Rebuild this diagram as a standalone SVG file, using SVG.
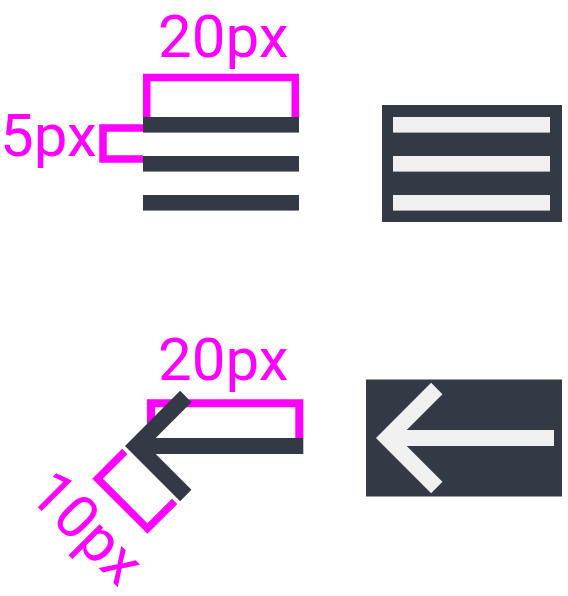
<svg xmlns="http://www.w3.org/2000/svg" width="568" height="596" viewBox="0 0 568 596">
  <style>
    .lbl { font-family: Roboto, "Liberation Sans", sans-serif; font-size: 60px; fill: #ff00ff; }
    .dim { fill: none; stroke: #ff00ff; stroke-width: 7.5; stroke-linejoin: miter; }
    .dark { fill: #343a45; }
    .light { fill: #f0f0f0; }
    .arrowDark { fill: none; stroke: #343a45; stroke-width: 16; stroke-linejoin: miter; stroke-linecap: butt; }
    .arrowLight { fill: none; stroke: #f0f0f0; stroke-width: 16; stroke-linejoin: miter; stroke-linecap: butt; }
  </style>
  <g id="menu-measure">
    <path class="dim" d="M146.75,117 V77.5 H295.25 V117"/>
    <path class="dim" d="M143,128 H103 V159 H143"/>
    <rect class="dark" x="143" y="117" width="156" height="15.6"/>
    <rect class="dark" x="143" y="156" width="156" height="15.6"/>
    <rect class="dark" x="143" y="195" width="156" height="15.6"/>
    <text class="lbl" x="158" y="57">20px</text>
    <text class="lbl" x="0" y="156">5px</text>
  </g>
  <g id="menu-icon">
    <rect class="dark" x="382" y="105" width="180" height="117"/>
    <rect class="light" x="393" y="117" width="157" height="15.6"/>
    <rect class="light" x="393" y="156" width="157" height="15.6"/>
    <rect class="light" x="393" y="195" width="157" height="15.6"/>
  </g>
  <g id="back-measure">
    <path class="dim" style="stroke-width:8" d="M151,438 V403.3 H299.3 V438"/>
    <g transform="translate(136.3,446) rotate(45)">
      <path class="dim" d="M-4.25,12 V50.5 H66.25 V12"/>
    </g>
    <path class="arrowDark" d="M185.8,396.5 L136.3,446 L185.8,495.5 M136.3,446 H303.3"/>
    <text class="lbl" x="158" y="379.5">20px</text>
    <text class="lbl" transform="translate(26.5,496) rotate(45)">10px</text>
  </g>
  <g id="back-icon">
    <rect class="dark" x="366" y="379.5" width="196" height="117"/>
    <path class="arrowLight" d="M436.8,388.5 L387.3,438 L436.8,487.5 M387.3,438 H554"/>
  </g>
</svg>
